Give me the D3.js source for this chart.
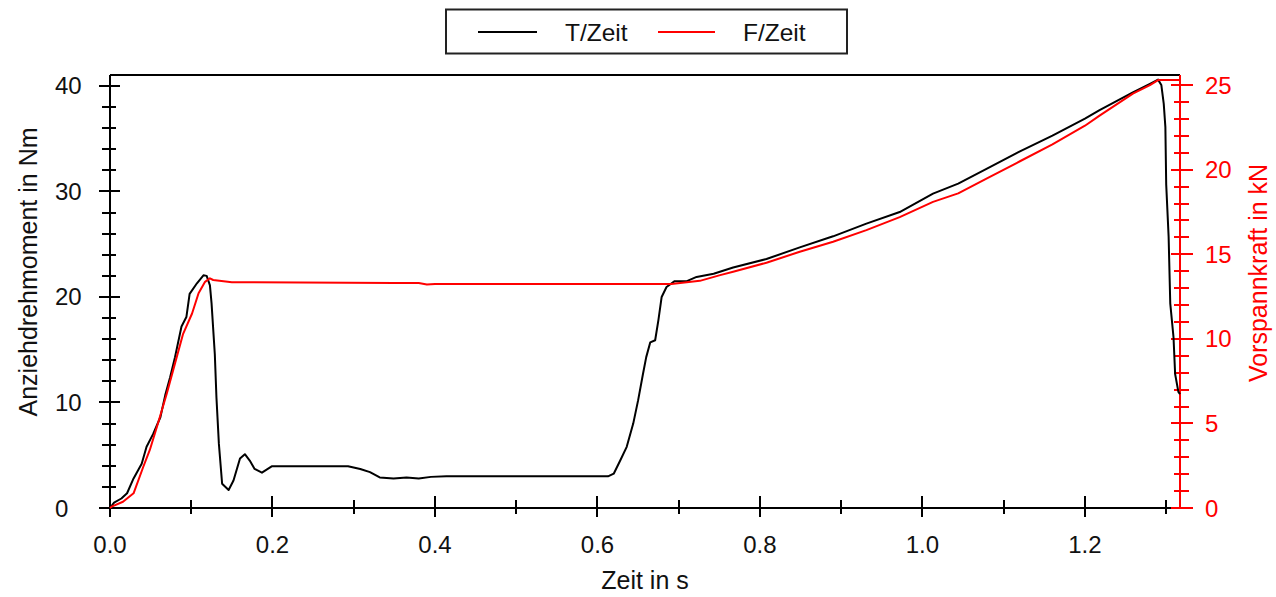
<!DOCTYPE html>
<html>
<head>
<meta charset="utf-8">
<script src="https://cdn.jsdelivr.net/npm/d3@7"></script>
<style>
  html, body { margin: 0; padding: 0; background: #fff; }
  svg { display: block; font-family: "Liberation Sans", Arial, sans-serif; }
</style>
</head>
<body>
<svg id="chart" width="1276" height="597"></svg>
<script>
// ---- data ----
const torqueTime = [0.000,0.002,0.005,0.014,0.021,0.029,0.039,0.045,0.053,0.062,0.068,0.074,0.080,0.088,0.094,0.098,0.107,0.115,0.119,0.123,0.125,0.129,0.131,0.134,0.138,0.146,0.152,0.160,0.166,0.172,0.178,0.187,0.199,0.293,0.308,0.320,0.332,0.349,0.365,0.380,0.395,0.414,0.613,0.620,0.628,0.636,0.644,0.650,0.656,0.660,0.665,0.671,0.675,0.679,0.685,0.695,0.710,0.722,0.743,0.767,0.808,0.849,0.890,0.931,0.972,1.013,1.044,1.080,1.120,1.160,1.200,1.218,1.259,1.280,1.290,1.294,1.297,1.299,1.300,1.303,1.305,1.309,1.311,1.315,1.317];
const torqueValues = [0.0,0.2,0.5,0.9,1.4,2.8,4.2,5.8,7.0,8.6,10.7,12.4,14.3,17.2,18.1,20.3,21.3,22.05,22.0,21.1,19.4,14.6,10.5,6.1,2.3,1.7,2.6,4.7,5.1,4.5,3.7,3.35,3.95,3.95,3.7,3.4,2.9,2.8,2.9,2.8,2.95,3.0,3.0,3.25,4.5,5.8,8.0,10.2,12.7,14.3,15.7,15.9,17.8,20.0,20.95,21.5,21.5,21.9,22.2,22.8,23.6,24.7,25.75,26.95,28.05,29.8,30.75,32.2,33.8,35.3,36.9,37.7,39.4,40.2,40.6,40.1,38.3,36.1,30.7,25.7,19.4,16.2,12.7,11.0,10.8];

const forceTime = [0.000,0.002,0.016,0.029,0.041,0.049,0.059,0.070,0.080,0.090,0.101,0.109,0.117,0.123,0.127,0.150,0.350,0.380,0.390,0.400,0.691,0.726,0.751,0.767,0.808,0.849,0.890,0.931,0.972,1.013,1.044,1.080,1.120,1.160,1.200,1.218,1.259,1.280,1.290,1.317];
const forceValues = [0.0,0.08,0.37,0.87,2.44,3.43,5.0,6.78,8.55,10.3,11.5,12.7,13.37,13.58,13.48,13.35,13.3,13.3,13.22,13.25,13.25,13.43,13.77,13.97,14.5,15.15,15.74,16.43,17.2,18.1,18.6,19.5,20.5,21.5,22.6,23.2,24.5,25.0,25.3,25.3];

const xMajorTicks = [0, 0.2, 0.4, 0.6, 0.8, 1.0, 1.2];
const xMinorTicks = [0.1, 0.3, 0.5, 0.7, 0.9, 1.1, 1.3];
const leftMajorTicks = [0, 10, 20, 30, 40];
const leftMinorTicks = [2,4,6,8,12,14,16,18,22,24,26,28,32,34,36,38,40];
const rightMajorTicks = [0, 5, 10, 15, 20, 25];
const rightMinorTicks = [1,2,3,4,6,7,8,9,11,12,13,14,16,17,18,19,21,22,23,24];

const seriesNames = ["T/Zeit", "F/Zeit"];
const xTitle = "Zeit in s";
const leftTitle = "Anziehdrehmoment in Nm";
const rightTitle = "Vorspannkraft in kN";

// ---- layout ----
const L = 110, R = 1180, T = 75, B = 508;
const svg = d3.select("#chart");

const x = d3.scaleLinear().domain([0, 1.317]).range([L, R]);
const yL = d3.scaleLinear().domain([0, 41.04]).range([B, T]);
const yR = d3.scaleLinear().domain([0, 25.6]).range([B, T]);

const torque = torqueTime.map((t, i) => [t, torqueValues[i]]);
const force = forceTime.map((t, i) => [t, forceValues[i]]);

// frame / axis lines
const g = svg.append("g");
g.append("line").attr("x1", L).attr("x2", R).attr("y1", T).attr("y2", T).attr("stroke", "#000").attr("stroke-width", 2);
g.append("line").attr("x1", L).attr("x2", L).attr("y1", T).attr("y2", B + 1).attr("stroke", "#000").attr("stroke-width", 2);
g.append("line").attr("x1", L - 1).attr("x2", R).attr("y1", B).attr("y2", B).attr("stroke", "#000").attr("stroke-width", 2);

// x ticks
g.selectAll(".xmaj").data(xMajorTicks).join("line")
  .attr("x1", d => Math.round(x(d))).attr("x2", d => Math.round(x(d)))
  .attr("y1", B - 12).attr("y2", B + 9).attr("stroke", "#000").attr("stroke-width", 2);
g.selectAll(".xmin").data(xMinorTicks).join("line")
  .attr("x1", d => Math.round(x(d))).attr("x2", d => Math.round(x(d)))
  .attr("y1", B - 8).attr("y2", B + 6).attr("stroke", "#000").attr("stroke-width", 2);
g.selectAll(".xlab").data(xMajorTicks).join("text")
  .attr("x", d => x(d)).attr("y", 553).attr("text-anchor", "middle")
  .attr("font-size", 24).attr("fill", "#111").text(d => d.toFixed(1));

// left ticks
g.selectAll(".lmaj").data(leftMajorTicks).join("line")
  .attr("y1", d => Math.round(yL(d))).attr("y2", d => Math.round(yL(d)))
  .attr("x1", L - 11).attr("x2", L + 10).attr("stroke", "#000").attr("stroke-width", 2);
g.selectAll(".lmin").data(leftMinorTicks).join("line")
  .attr("y1", d => Math.round(yL(d))).attr("y2", d => Math.round(yL(d)))
  .attr("x1", L - 8).attr("x2", L + 6).attr("stroke", "#000").attr("stroke-width", 2);
g.selectAll(".llab").data(leftMajorTicks).join("text")
  .attr("x", 55).attr("y", d => yL(d) + 8.5).attr("text-anchor", "start")
  .attr("font-size", 24).attr("fill", "#111").text(d => d);

// right axis (red)
g.append("line").attr("x1", R).attr("x2", R).attr("y1", T).attr("y2", B).attr("stroke", "#ff0000").attr("stroke-width", 2);
g.selectAll(".rmaj").data(rightMajorTicks).join("line")
  .attr("y1", d => Math.round(yR(d))).attr("y2", d => Math.round(yR(d)))
  .attr("x1", R - 9).attr("x2", R + 13).attr("stroke", "#ff0000").attr("stroke-width", 2);
g.selectAll(".rmin").data(rightMinorTicks).join("line")
  .attr("y1", d => Math.round(yR(d))).attr("y2", d => Math.round(yR(d)))
  .attr("x1", R - 6).attr("x2", R + 9).attr("stroke", "#ff0000").attr("stroke-width", 2);
g.selectAll(".rlab").data(rightMajorTicks).join("text")
  .attr("x", 1205).attr("y", d => yR(d) + 8.5).attr("text-anchor", "start")
  .attr("font-size", 24).attr("fill", "#ff0000").text(d => d);

// titles
g.append("text").attr("x", (L + R) / 2).attr("y", 589).attr("text-anchor", "middle")
  .attr("font-size", 25).attr("fill", "#111").text(xTitle);
g.append("text").attr("transform", "translate(37,272) rotate(-90)").attr("text-anchor", "middle")
  .attr("font-size", 25).attr("fill", "#111").text(leftTitle);
g.append("text").attr("transform", "translate(1267,273) rotate(-90)").attr("text-anchor", "middle")
  .attr("font-size", 25).attr("fill", "#ff0000").text(rightTitle);

// curves
svg.append("path").datum(torque)
  .attr("d", d3.line().x(d => x(d[0])).y(d => yL(d[1])))
  .attr("fill", "none").attr("stroke", "#000").attr("stroke-width", 2).attr("stroke-linejoin", "round");
svg.append("path").datum(force)
  .attr("d", d3.line().x(d => x(d[0])).y(d => yR(d[1])))
  .attr("fill", "none").attr("stroke", "#ff0000").attr("stroke-width", 2).attr("stroke-linejoin", "round");

// legend
const lg = svg.append("g");
lg.append("rect").attr("x", 446).attr("y", 9.5).attr("width", 401).attr("height", 44)
  .attr("fill", "#fff").attr("stroke", "#222").attr("stroke-width", 2);
const legendItems = [
  { name: seriesNames[0], color: "#000", x1: 478, x2: 537, tx: 565 },
  { name: seriesNames[1], color: "#ff0000", x1: 658, x2: 715, tx: 743 }
];
legendItems.forEach(it => {
  lg.append("line").attr("x1", it.x1).attr("x2", it.x2).attr("y1", 32).attr("y2", 32)
    .attr("stroke", it.color).attr("stroke-width", 2);
  lg.append("text").attr("x", it.tx).attr("y", 40.5).attr("font-size", 24.5).attr("fill", "#111").text(it.name);
});
</script>
</body>
</html>
